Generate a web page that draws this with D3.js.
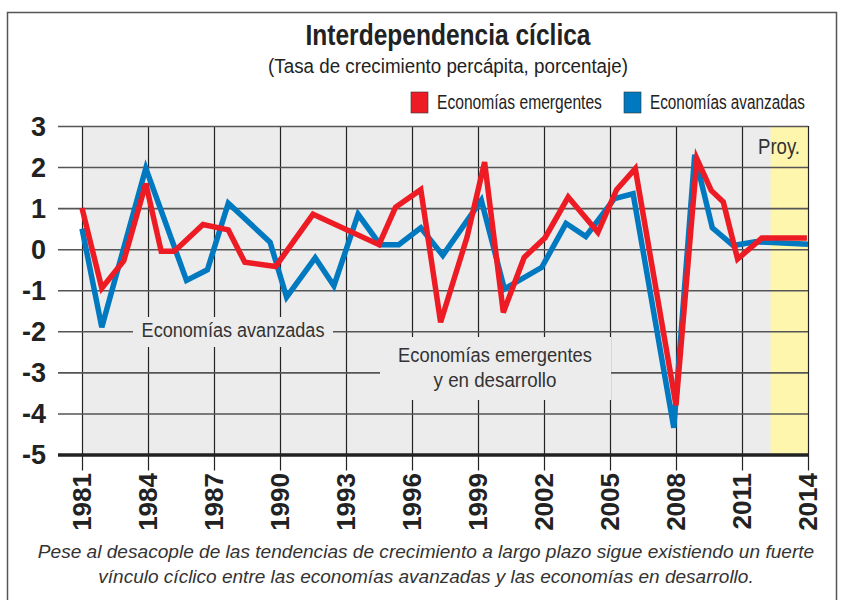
<!DOCTYPE html>
<html>
<head>
<meta charset="utf-8">
<script src="https://cdnjs.cloudflare.com/ajax/libs/d3/7.8.5/d3.min.js"></script>
<style>
  body { margin: 0; background: #fff; }
  svg { display: block; }
</style>
</head>
<body>
<div id="chart"></div>
<script>
var w = 841;
var h = 600;

// data (x positions are where the vertices sit on the year axis)
var emergYears = [1981, 1981.9, 1982.9, 1983.9, 1984.6, 1985.2, 1986.5, 1987.65, 1988.4, 1989.8,
    1991.5, 1994.5, 1995.25, 1996.4, 1997.3, 1998.5, 1999.3, 2000.15, 2001.1, 2002.05,
    2003.1, 2004.45, 2005.3, 2006.15, 2008.0, 2008.95, 2009.6, 2010.15, 2010.8, 2011.9, 2013.95];
var emergValues = [1.0, -0.95, -0.28, 1.6, -0.05, -0.05, 0.6, 0.47, -0.32, -0.42,
    0.85, 0.11, 1.02, 1.45, -1.78, 0.29, 2.12, -1.54, -0.2, 0.28,
    1.27, 0.41, 1.45, 1.96, -3.8, 2.2, 1.43, 1.15, -0.24, 0.27, 0.27];

var advYears = [1981, 1981.9, 1983.9, 1985.75, 1986.7, 1987.65, 1989.55, 1990.3, 1991.6, 1992.45,
    1993.55, 1994.55, 1995.4, 1996.4, 1997.4, 1999.15, 2000.2, 2001.9, 2003.0, 2003.9,
    2005.2, 2006.05, 2007.9, 2008.85, 2009.65, 2010.6, 2011.6, 2014];
var advValues = [0.5, -1.9, 1.97, -0.76, -0.5, 1.12, 0.17, -1.17, -0.21, -0.89,
    0.85, 0.11, 0.11, 0.52, -0.15, 1.19, -0.97, -0.44, 0.63, 0.31,
    1.23, 1.35, -4.35, 2.3, 0.52, 0.09, 0.18, 0.12];

var yearTicks = [1981, 1984, 1987, 1990, 1993, 1996, 1999, 2002, 2005, 2008, 2011, 2014];
var valueTicks = [3, 2, 1, 0, -1, -2, -3, -4, -5];
var projStart = 2012.3;

var font = "'Liberation Sans', Arial, sans-serif";

var svg = d3.select("#chart").append("svg").attr("width", w).attr("height", h);

// text helper: squeeze horizontally to the width seen in the picture (the original face is condensed)
function label(px, py, txt, size, len, opts) {
    opts = opts || {};
    var g = svg.append("g");
    var t = g.append("text").attr("x", 0).attr("y", 0)
        .attr("text-anchor", opts.anchor || "middle")
        .attr("font-family", font).attr("font-size", size)
        .attr("font-weight", opts.bold ? "bold" : "normal")
        .attr("font-style", opts.italic ? "italic" : "normal")
        .attr("fill", opts.fill || "#333")
        .text(txt);
    var sx = len / t.node().getComputedTextLength();
    g.attr("transform", "translate(" + px + "," + py + ") scale(" + sx + ",1)");
    return g;
}

svg.append("rect").attr("x", 7.5).attr("y", 12.5).attr("width", 829).attr("height", 620)
    .attr("fill", "#fff").attr("stroke", "#555").attr("stroke-width", 1.5);

var x = d3.scaleLinear().domain([1981, 2014]).range([82, 808]);
var y = d3.scaleLinear().domain([-5, 3]).range([454.5, 126]);

// plot background + projection band
svg.append("rect").attr("x", x(1981)).attr("y", y(3)).attr("width", x(2014) - x(1981))
    .attr("height", y(-5) - y(3)).attr("fill", "#ececec");
svg.append("rect").attr("x", x(projStart)).attr("y", y(3)).attr("width", x(2014) - x(projStart))
    .attr("height", y(-5) - y(3)).attr("fill", "#fff6ae");

// vertical grid / ticks
var xAxis = svg.append("g").attr("transform", "translate(0," + y(3) + ")")
    .call(d3.axisBottom(x).tickValues(yearTicks).tickSize(y(-5) - y(3) + 16).tickFormat(""));
xAxis.select(".domain").remove();
xAxis.selectAll(".tick line").attr("stroke", "#222").attr("stroke-width", 1.2);

// horizontal grid
var yAxis = svg.append("g").attr("transform", "translate(58,0)")
    .call(d3.axisLeft(y).tickValues(valueTicks).tickSize(-(x(2014) - 58)).tickPadding(12)
        .tickFormat(function (d) { return String(d); }));
yAxis.select(".domain").remove();
yAxis.selectAll(".tick line")
    .attr("stroke", function (d) { return d == -5 ? "#222" : "#555"; })
    .attr("stroke-width", function (d) { return d == -5 ? 3.5 : 1.6; });
yAxis.selectAll(".tick text").attr("font-family", font).attr("font-weight", "bold")
    .attr("font-size", 27).attr("fill", "#222").attr("dy", "0.35em");

// year labels, rotated
svg.selectAll(".yr").data(yearTicks).enter().append("text")
    .attr("class", "yr")
    .attr("transform", function (d) { return "translate(" + x(d) + ",473) rotate(-90)"; })
    .attr("text-anchor", "end").attr("dy", "0.36em")
    .attr("font-family", font).attr("font-weight", "bold").attr("font-size", 26)
    .attr("fill", "#222")
    .text(function (d) { return d; });

// label boxes inside plot (hide grid)
svg.append("rect").attr("x", 133).attr("y", 317).attr("width", 200).attr("height", 30).attr("fill", "#ececec");
svg.append("rect").attr("x", 380).attr("y", 337).attr("width", 231).attr("height", 63).attr("fill", "#ececec");

label(233, 337, "Economías avanzadas", 21, 183);
label(495, 362, "Economías emergentes", 21, 194);
label(495, 387, "y en desarrollo", 21, 123);
label(800, 154, "Proy.", 22, 42, { anchor: "end" });

// series lines
var line = d3.line().x(function (d) { return x(d[0]); }).y(function (d) { return y(d[1]); });
svg.append("path").datum(d3.zip(advYears, advValues)).attr("d", line)
    .attr("fill", "none").attr("stroke", "#0079c1").attr("stroke-width", 5.5)
    .attr("stroke-linejoin", "miter");
svg.append("path").datum(d3.zip(emergYears, emergValues)).attr("d", line)
    .attr("fill", "none").attr("stroke", "#ed1c24").attr("stroke-width", 5.5)
    .attr("stroke-linejoin", "miter");

// titles
label(448, 45, "Interdependencia cíclica", 29, 285, { bold: true, fill: "#222" });
label(448, 73, "(Tasa de crecimiento percápita, porcentaje)", 21, 360, { fill: "#222" });

// legend
var legendItems = [
    { label: "Economías emergentes", color: "#ed1c24", x: 411, len: 165 },
    { label: "Economías avanzadas", color: "#0079c1", x: 624, len: 155 }
];
legendItems.forEach(function (d) {
    svg.append("rect").attr("x", d.x).attr("y", 92).attr("width", 17).attr("height", 21)
        .attr("fill", d.color).attr("stroke", "#333").attr("stroke-width", 0.6);
    label(d.x + 26, 109, d.label, 20, d.len, { anchor: "start", fill: "#222" });
});

// footnote
var notes = ["Pese al desacople de las tendencias de crecimiento a largo plazo sigue existiendo un fuerte",
    "vínculo cíclico entre las economías avanzadas y las economías en desarrollo."];
var noteLens = [777, 656];
notes.forEach(function (d, i) {
    label(426, 558 + i * 25, d, 19, noteLens[i], { italic: true });
});
</script>
</body>
</html>
